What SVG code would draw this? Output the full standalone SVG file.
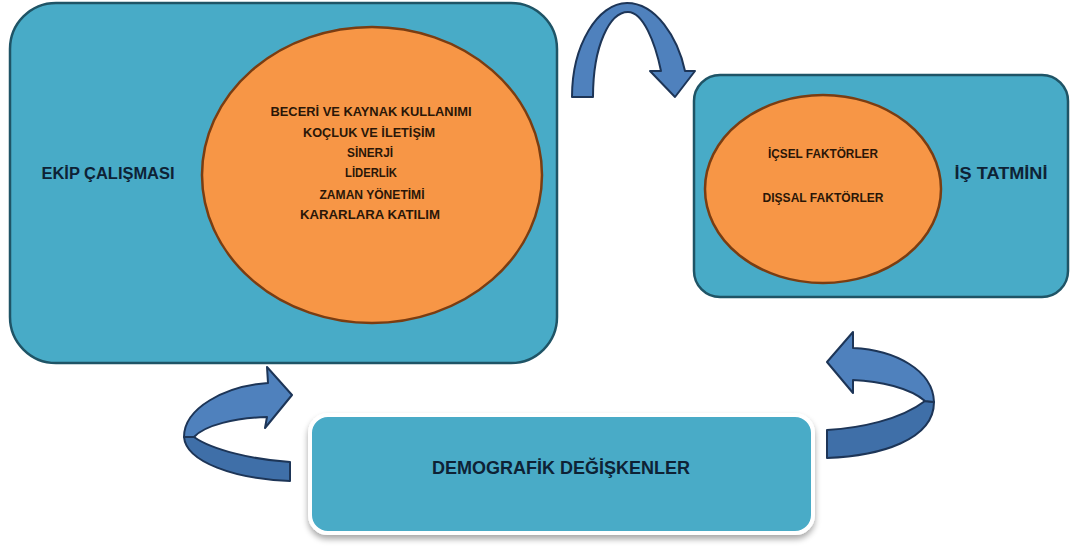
<svg xmlns="http://www.w3.org/2000/svg" width="1073" height="549" viewBox="0 0 1073 549">
<defs>
<style>
.box{fill:#48abc7;stroke:#1f5466;stroke-width:2.5}
.oval{fill:#f79646;stroke:#7a3d12;stroke-width:2.5}
.arrow{fill:#4f81bd;stroke:#1d3557;stroke-width:2;stroke-linejoin:round}
.back{fill:#3f6fa8;stroke:#1d3557;stroke-width:2;stroke-linejoin:round}
.lbl{font-family:"Liberation Sans",Arial,sans-serif;font-weight:bold;fill:#0e2235;text-anchor:middle}
.in{font-family:"Liberation Sans",Arial,sans-serif;font-weight:bold;fill:#2a1608;text-anchor:middle;font-size:12.5px}
</style>
<filter id="sh" x="-5%" y="-10%" width="110%" height="130%">
<feGaussianBlur in="SourceAlpha" stdDeviation="3"/>
<feOffset dx="0" dy="4" result="b"/>
<feComponentTransfer><feFuncA type="linear" slope="0.35"/></feComponentTransfer>
<feMerge><feMergeNode/><feMergeNode in="SourceGraphic"/></feMerge>
</filter>
</defs>
<rect width="1073" height="549" fill="#ffffff"/>

<g id="ekip">
<rect class="box" x="10" y="3" width="547" height="360" rx="46"/>
<ellipse class="oval" cx="372" cy="175" rx="170" ry="148"/>
<text class="lbl" x="108" y="179" font-size="16" textLength="133" lengthAdjust="spacingAndGlyphs">EKİP ÇALIŞMASI</text>
<text class="in" x="371" y="116" textLength="201" lengthAdjust="spacingAndGlyphs">BECERİ VE KAYNAK KULLANIMI</text>
<text class="in" x="369" y="137" textLength="132" lengthAdjust="spacingAndGlyphs">KOÇLUK VE İLETİŞİM</text>
<text class="in" x="370" y="157" textLength="46" lengthAdjust="spacingAndGlyphs">SİNERJİ</text>
<text class="in" x="371" y="177" textLength="52" lengthAdjust="spacingAndGlyphs">LİDERLİK</text>
<text class="in" x="372" y="199" textLength="105" lengthAdjust="spacingAndGlyphs">ZAMAN YÖNETİMİ</text>
<text class="in" x="370" y="219" textLength="140" lengthAdjust="spacingAndGlyphs">KARARLARA KATILIM</text>
</g>

<g id="tatmin">
<rect class="box" x="694" y="75" width="374" height="222" rx="26"/>
<ellipse class="oval" cx="823" cy="189" rx="118" ry="94"/>
<text class="in" x="823" y="158" textLength="110" lengthAdjust="spacingAndGlyphs">İÇSEL FAKTÖRLER</text>
<text class="in" x="823" y="202" textLength="121" lengthAdjust="spacingAndGlyphs">DIŞSAL FAKTÖRLER</text>
<text class="lbl" x="1001" y="179" font-size="16" textLength="93" lengthAdjust="spacingAndGlyphs">İŞ TATMİNİ</text>
</g>

<g id="demografik">
<rect x="310" y="415" width="503" height="118" rx="18" fill="#48abc7" stroke="#ffffff" stroke-width="4" filter="url(#sh)"/>
<text class="lbl" x="561" y="474" font-size="18" textLength="258" lengthAdjust="spacingAndGlyphs">DEMOGRAFİK DEĞİŞKENLER</text>
</g>

<g id="connectors">
<path class="arrow" d="M572,97 C572,45 598,3 627,3 C656,3 678,38 685,71 L695,71 L675,97 L650,71 L661,71 C655,42 643,12 628,12 C610,12 593,45 593,97 Z"/>
<path class="back" d="M290,481 C235,479 186,462 184,437 L194,437 C212,450 255,460 290,462 Z"/>
<path class="arrow" d="M184,437 C184,408 225,386 268,383 L267,367 L292,395 L265,428 L267,417 C235,418 205,425 194,437 Z"/>
<path class="back" d="M827,458 C880,456 934,440 934,402 L925,401 C900,420 860,428 827,430 Z"/>
<path class="arrow" d="M934,402 C933,370 895,350 853,348 L853,332 L827,362 L853,393 L853,380 C880,381 910,388 925,401 Z"/>
</g>
</svg>
